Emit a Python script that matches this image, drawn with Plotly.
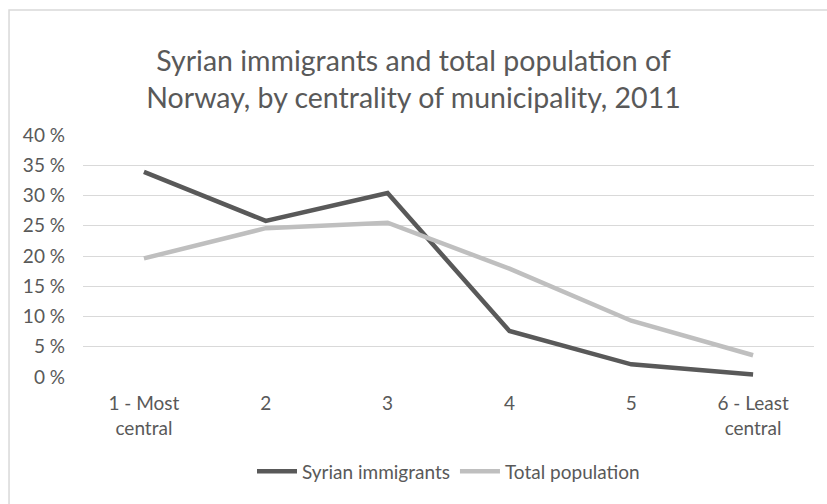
import plotly.graph_objects as go

# Centrality classes of municipalities (1 = most central, 6 = least central)
categories = ["1 - Most<br>central", "2", "3", "4", "5", "6 - Least<br>central"]

# Share of each group living in each centrality class, percent
syrian_immigrants = [33.9, 25.8, 30.4, 7.6, 2.1, 0.4]
total_population = [19.6, 24.6, 25.5, 17.9, 9.3, 3.6]

y_ticks = [0, 5, 10, 15, 20, 25, 30, 35, 40]
y_tick_labels = [f"{v} %" for v in y_ticks]

FONT = "Lato, Open Sans, sans-serif"
TEXT_COLOR = "#595959"
SMALL = 19

fig = go.Figure()
fig.add_trace(go.Scatter(
    x=categories, y=syrian_immigrants, mode="lines", name="Syrian immigrants",
    line=dict(color="#595959", width=4.5),
))
fig.add_trace(go.Scatter(
    x=categories, y=total_population, mode="lines", name="Total population",
    line=dict(color="#bfbfbf", width=4.5),
))

fig.update_layout(
    width=827, height=504, autosize=False,
    margin=dict(l=83, r=13, t=135, b=127),
    paper_bgcolor="white", plot_bgcolor="white",
    font=dict(family=FONT, color=TEXT_COLOR, size=SMALL),
    title=dict(
        text="Syrian immigrants and total population of<br>Norway, by centrality of municipality, 2011",
        x=0.5, xanchor="center", xref="container",
        y=0.86, yanchor="top", yref="container",
        font=dict(family=FONT, size=28.5, color=TEXT_COLOR),
    ),
    xaxis=dict(
        type="category", range=[-0.5, 5.5],
        showgrid=False, showline=False, zeroline=False,
        ticks="", ticklabelstandoff=13,
        tickfont=dict(size=SMALL, color=TEXT_COLOR),
    ),
    yaxis=dict(
        range=[0, 40], tickvals=y_ticks, ticktext=y_tick_labels,
        showgrid=True, gridcolor="#d9d9d9", gridwidth=1.3,
        zeroline=False, showline=False, ticks="",
        ticklabelstandoff=17,
        tickfont=dict(size=SMALL, color=TEXT_COLOR),
    ),
    legend=dict(
        orientation="h", x=0.5, xanchor="center", y=-0.39, yanchor="middle",
        font=dict(size=SMALL, color=TEXT_COLOR), itemwidth=40,
        traceorder="normal",
    ),
    shapes=[dict(
        type="rect", xref="paper", yref="paper",
        x0=-0.1012, x1=1.2, y0=-1.0, y1=1.5165,
        line=dict(color="#d9d9d9", width=1.5), fillcolor="rgba(0,0,0,0)",
        layer="below",
    )],
)

fig.write_html("out.html")
